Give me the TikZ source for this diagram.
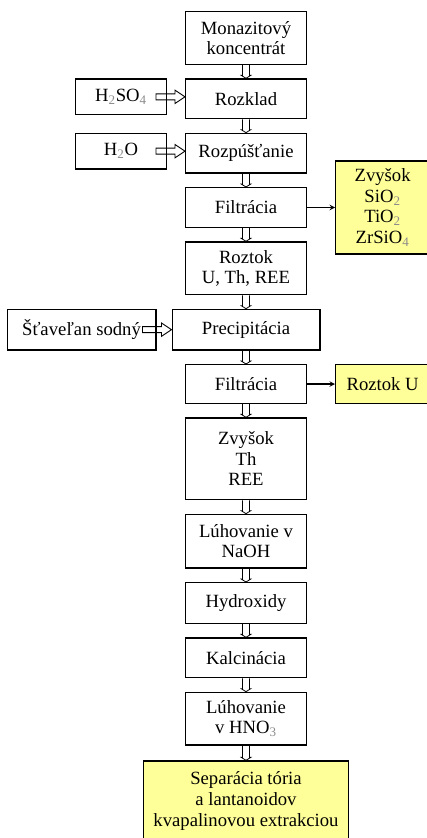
\documentclass[tikz,border=0pt]{standalone}
\usepackage{fontspec}
\setmainfont{Liberation Serif}
\usepackage{xcolor}
\usepackage{tikz}
\usetikzlibrary{positioning, arrows, calc}
\definecolor{resyellow}{HTML}{FFFF99}
\newcommand{\sub}[1]{\textsubscript{\color{black!45}#1}}
\tikzset{
    >=stealth,                                  % bold arrow heads
    node distance=10pt,                         % gap between the boxes
    proc/.style={draw, line width=0.9pt, align=center, inner sep=2pt,
        minimum width=90.6pt, minimum height=29.85pt,
        font=\fontsize{14pt}{15.5pt}\selectfont},
    result/.style={proc, fill=resyellow},
    % hollow block arrow, left to right
    hblock/.style={line width=0.7pt, to path={let \p1=(\tikztostart), \p2=(\tikztotarget) in
        (\x1,\y1+2.25pt) -- (\x2-7.5pt,\y1+2.25pt) -- (\x2-7.5pt,\y1+5pt) -- (\x2,\y1)
        -- (\x2-7.5pt,\y1-5pt) -- (\x2-7.5pt,\y1-2.25pt) -- (\x1,\y1-2.25pt) -- cycle}},
    % small hollow arrow, top to bottom
    vblock/.style={line width=0.6pt, to path={let \p1=(\tikztostart), \p2=(\tikztotarget) in
        (\x1-2.6pt,\y1) -- (\x1-2.6pt,\y2+2.25pt) -- (\x1-3.6pt,\y2+2.25pt) -- (\x1,\y2)
        -- (\x1+3.6pt,\y2+2.25pt) -- (\x1+2.6pt,\y2+2.25pt) -- (\x1+2.6pt,\y1)}},
}
\begin{document}
\begin{tikzpicture}

\useasboundingbox (0,0) rectangle (319.5pt,-628.5pt);

% main column
\node[proc, minimum height=39.6pt, anchor=north] (monazit) at (184.5pt,-8.25pt) {Monazitový\\koncentrát};
\node[proc, below=of monazit] (rozklad) {Rozklad};
\node[proc, below=of rozklad] (rozpust) {Rozpúšťanie};
\node[proc, below=of rozpust] (filtr1) {Filtrácia};
\node[proc, below=of filtr1, minimum height=39.6pt] (roztok) {Roztok\\U, Th, REE};
\node[proc, below=of roztok, minimum width=110.85pt, minimum height=30.6pt] (precip) {Precipitácia};
\node[proc, below=of precip, minimum height=29.1pt] (filtr2) {Filtrácia};
\node[proc, below=of filtr2, minimum height=61.35pt] (zvysok2) {Zvyšok\\Th\\REE};
\node[proc, below=of zvysok2, minimum height=40.35pt] (luhNaOH) {Lúhovanie v\\NaOH};
\node[proc, below=of luhNaOH, minimum height=30.6pt] (hydrox) {Hydroxidy};
\node[proc, below=of hydrox] (kalc) {Kalcinácia};
\node[proc, below=of kalc, minimum height=39.6pt] (luhHNO) {Lúhovanie\\v HNO\sub{3}};
\node[result, below=11pt of luhHNO, minimum width=153.6pt, minimum height=60pt] (separ) {Separácia tória\\a lantanoidov\\kvapalinovou extrakciou};

% inputs
\node[proc, left=13.5pt of rozklad, minimum width=68.1pt, minimum height=26.85pt, yshift=1.5pt] (kys) {H\sub{2}SO\sub{4}};
\node[proc, left=13.5pt of rozpust, minimum width=68.1pt, minimum height=26.85pt, yshift=1.5pt] (voda) {H\sub{2}O};
\node[proc, left=11.25pt of precip, minimum width=111.6pt, minimum height=30.6pt] (stavelan) {Šťaveľan sodný};

% outputs
\node[result, right=21pt of filtr1, minimum width=70.5pt, minimum height=69.6pt] (zvysok1) {Zvyšok\\SiO\sub{2}\\TiO\sub{2}\\ZrSiO\sub{4}};
\node[result, right=21pt of filtr2, minimum width=70.5pt, minimum height=29.1pt] (roztokU) {Roztok U};

\foreach \a/\b in {monazit/rozklad, rozklad/rozpust, rozpust/filtr1, filtr1/roztok,
    roztok/precip, precip/filtr2, filtr2/zvysok2, zvysok2/luhNaOH, luhNaOH/hydrox,
    hydrox/kalc, kalc/luhHNO, luhHNO/separ}
    \draw[vblock] (\a.south) to (\b.north);

\draw[hblock] ([xshift=-8.25pt]kys.east) to (rozklad.west);
\draw[hblock] ([xshift=-8.25pt]voda.east) to (rozpust.west);
\draw[hblock] ([xshift=-10.5pt]stavelan.east) to (precip.west);

\draw[->, line width=0.8pt] (filtr1) -- (zvysok1);
\draw[->, line width=0.8pt] (filtr2) -- (roztokU);

\end{tikzpicture}
\end{document}
